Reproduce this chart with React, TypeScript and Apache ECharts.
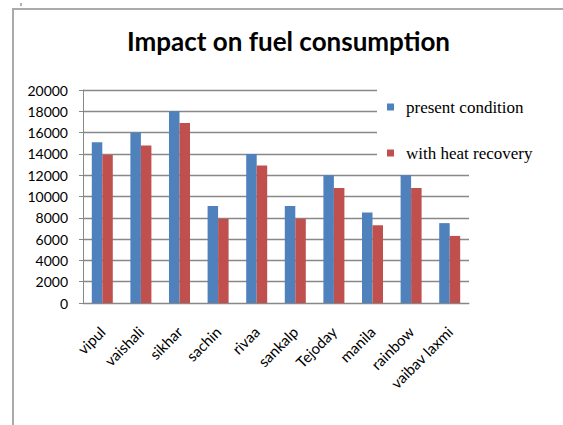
import React, { useEffect, useRef } from "react";
import * as echarts from "echarts";

const categories = ["vipul", "vaishali", "sikhar", "sachin", "rivaa", "sankalp", "Tejoday", "manila", "rainbow", "vaibav laxmi"];
const presentCondition = [15100, 16000, 18000, 9100, 14000, 9100, 12000, 8500, 12000, 7500];
const withHeatRecovery = [13900, 14800, 16900, 7900, 12900, 7900, 10800, 7300, 10800, 6300];
const seriesNames = ["present condition", "with heat recovery"];
const titleText = "Impact on fuel consumption";

export default function App() {
  const ref = useRef<HTMLDivElement>(null);
  useEffect(() => {
    if (!ref.current) return;
    const chart = echarts.init(ref.current, null, { renderer: "svg" });
    chart.setOption({
      animation: false,
      backgroundColor: "#ffffff",
      title: {
        text: titleText,
        left: 127,
        top: 28,
        padding: 0,
        textStyle: { fontFamily: "Lato", fontWeight: "bold", fontSize: 26, color: "#000000" },
      },
      legend: {
        orient: "vertical",
        left: 377,
        top: 85,
        padding: [12, 25, 7, 10],
        backgroundColor: "#ffffff",
        itemWidth: 7,
        itemHeight: 7,
        itemGap: 26,
        icon: "rect",
        data: seriesNames,
        textStyle: { fontFamily: "Liberation Serif", fontSize: 17, color: "#000000", lineHeight: 20, padding: [0, 0, 0, 7] },
      },
      grid: { left: 83, right: 94, top: 90, bottom: 122, containLabel: false },
      xAxis: {
        type: "category",
        data: categories,
        axisLine: { lineStyle: { color: "#888888", width: 1 } },
        axisTick: { show: false },
        axisLabel: { rotate: 45, margin: 26, fontFamily: "Lato", fontSize: 15, color: "#000000", interval: 0 },
      },
      yAxis: {
        type: "value",
        min: 0,
        max: 20000,
        interval: 2000,
        axisLine: { show: true, lineStyle: { color: "#888888", width: 1 } },
        axisTick: { show: true, length: 4, lineStyle: { color: "#888888" } },
        splitLine: { lineStyle: { color: "#888888", width: 1.3 } },
        axisLabel: {
          margin: 15,
          fontFamily: "Lato",
          fontSize: 14,
          color: "#000000",
          formatter: (v: number) => String(v),
        },
      },
      series: [
        {
          name: seriesNames[0],
          type: "bar",
          data: presentCondition,
          barWidth: 10.5,
          barGap: "0%",
          itemStyle: { color: "#4F81BD" },
        },
        {
          name: seriesNames[1],
          type: "bar",
          data: withHeatRecovery,
          barWidth: 10.5,
          barGap: "0%",
          itemStyle: { color: "#C0504D" },
        },
      ],
      graphic: [
        { type: "line", shape: { x1: 13, y1: 9, x2: 563, y2: 9 }, style: { stroke: "#aaaaaa", lineWidth: 2 } },
        { type: "line", shape: { x1: 13, y1: 8, x2: 13, y2: 425 }, style: { stroke: "#aaaaaa", lineWidth: 2 } },
        { type: "rect", shape: { x: 20, y: 3, width: 2, height: 3 }, style: { fill: "#b0b0b0" } },
      ],
    });
    return () => chart.dispose();
  }, []);
  return <div ref={ref} style={{ position: "absolute", left: 0, top: 0, width: 563, height: 425 }} />;
}
